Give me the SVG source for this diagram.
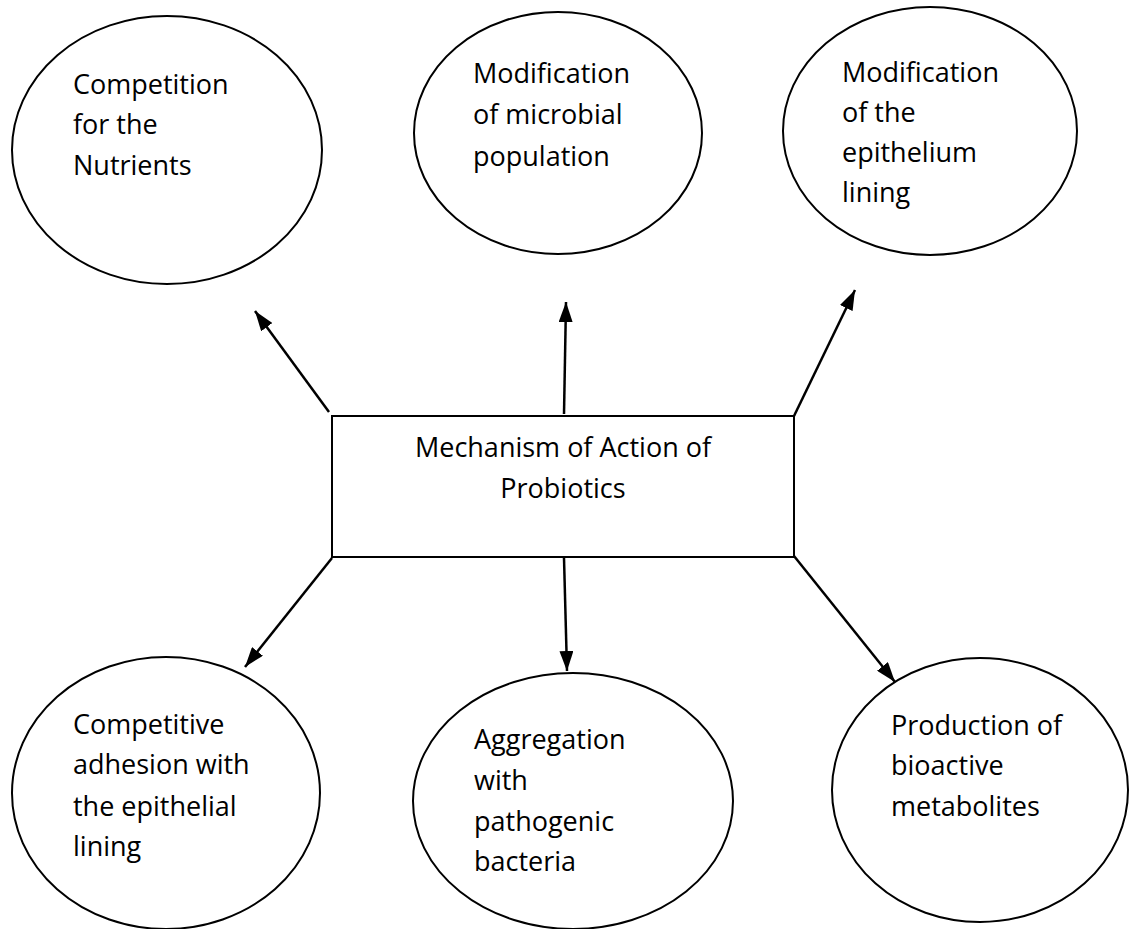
<svg xmlns="http://www.w3.org/2000/svg" width="1129" height="929" viewBox="0 0 1129 929">
<style>
.n{fill:#fff;stroke:#000;stroke-width:2}
.t{font-family:"Open Sans","Liberation Sans",sans-serif;font-size:27px;fill:#000}
.c{stroke:#000;stroke-width:2.5;fill:none;marker-end:url(#ah)}
</style>
<defs>
<marker id="ah" markerUnits="userSpaceOnUse" markerWidth="20" markerHeight="14" refX="20" refY="7" orient="auto">
<path d="M0,0 L20,7 L0,14 Z" fill="#000"/>
</marker>
</defs>
<rect width="1129" height="929" fill="#fff"/>
<g id="connectors">
<line class="c" x1="329" y1="412" x2="255" y2="311"/>
<line class="c" x1="564" y1="414" x2="566" y2="302"/>
<line class="c" x1="794" y1="416" x2="855" y2="290"/>
<line class="c" x1="332" y1="558" x2="245" y2="667"/>
<line class="c" x1="564" y1="558" x2="567" y2="671"/>
<line class="c" x1="794" y1="556" x2="895" y2="682"/>
</g>
<g id="center">
<rect class="n" x="332" y="416" width="462" height="141"/>
<text class="t" x="563" y="457" text-anchor="middle">Mechanism of Action of</text>
<text class="t" x="563" y="498" text-anchor="middle">Probiotics</text>
</g>
<g id="n1">
<ellipse class="n" cx="167" cy="150" rx="155" ry="134"/>
<text class="t" x="73" y="94">Competition</text>
<text class="t" x="73" y="134">for the</text>
<text class="t" x="73" y="175">Nutrients</text>
</g>
<g id="n2">
<ellipse class="n" cx="558" cy="133" rx="144" ry="121"/>
<text class="t" x="473" y="83">Modification</text>
<text class="t" x="473" y="124">of microbial</text>
<text class="t" x="473" y="166">population</text>
</g>
<g id="n3">
<ellipse class="n" cx="930" cy="131" rx="147" ry="124"/>
<text class="t" x="842" y="82">Modification</text>
<text class="t" x="842" y="122">of the</text>
<text class="t" x="842" y="162">epithelium</text>
<text class="t" x="842" y="202">lining</text>
</g>
<g id="n4">
<ellipse class="n" cx="166" cy="793" rx="154" ry="136"/>
<text class="t" x="73" y="734">Competitive</text>
<text class="t" x="73" y="774">adhesion with</text>
<text class="t" x="73" y="816">the epithelial</text>
<text class="t" x="73" y="856">lining</text>
</g>
<g id="n5">
<ellipse class="n" cx="573" cy="801" rx="160" ry="128"/>
<text class="t" x="474" y="749">Aggregation</text>
<text class="t" x="474" y="790">with</text>
<text class="t" x="474" y="831">pathogenic</text>
<text class="t" x="474" y="871">bacteria</text>
</g>
<g id="n6">
<ellipse class="n" cx="980" cy="790" rx="148" ry="132"/>
<text class="t" x="891" y="735">Production of</text>
<text class="t" x="891" y="775">bioactive</text>
<text class="t" x="891" y="816">metabolites</text>
</g>
</svg>
